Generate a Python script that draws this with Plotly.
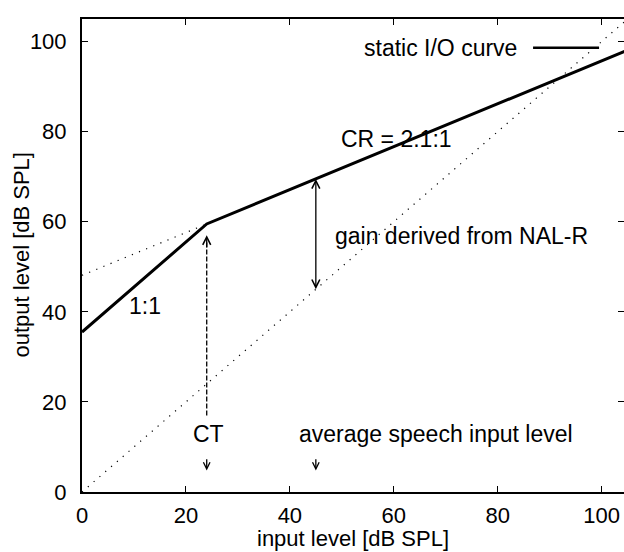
import plotly.graph_objects as go

# ---- data ----
curve_x = [0, 24, 105]          # static I/O curve (input level, dB SPL)
curve_y = [35.5, 59.5, 98.1]    # output level, dB SPL
ext_x = [0, 24]                 # dotted extension of the compressed segment
ext_y = [48.1, 59.5]
diag_x = [0, 105]               # dotted 1:1 reference line
diag_y = [0, 105]
ct_level = 24                   # compression threshold
ct_arrow_y = [17, 57]           # dashed arrow span at CT
speech_level = 45               # average speech input level
gain_span = [44.7, 69.5]        # gain arrow: from y=x to the curve
down_arrow_y = [7.6, 4.8]       # small downward arrows
x_ticks = [0, 20, 40, 60, 80, 100]
y_ticks = [0, 20, 40, 60, 80, 100]

FONT = "Liberation Sans, Arial, Helvetica, sans-serif"
FS = 21

fig = go.Figure()
fig.add_trace(go.Scatter(x=diag_x, y=diag_y, mode="lines",
                         line=dict(color="black", width=1.2, dash="1.2px,6.5px"),
                         showlegend=False, hoverinfo="skip"))
fig.add_trace(go.Scatter(x=ext_x, y=ext_y, mode="lines",
                         line=dict(color="black", width=1.2, dash="1.2px,6.5px"),
                         showlegend=False, hoverinfo="skip"))
fig.add_trace(go.Scatter(x=[ct_level, ct_level], y=[ct_arrow_y[0], ct_arrow_y[1] - 1.5], mode="lines",
                         line=dict(color="black", width=1.3, dash="5px,2px"),
                         showlegend=False, hoverinfo="skip"))
fig.add_trace(go.Scatter(x=curve_x, y=curve_y, mode="lines",
                         line=dict(color="black", width=3),
                         showlegend=False, hoverinfo="skip"))

def txt(x, y, s, xanchor="center"):
    fig.add_annotation(x=x, y=y, text=s, showarrow=False, xanchor=xanchor,
                       yanchor="middle", font=dict(family=FONT, size=23, color="black"))

txt(60.6, 78.4, "CR = 2.1:1")
txt(73.1, 56.9, "gain derived from NAL-R")
txt(12.2, 41.4, "1:1")
txt(ct_level + 0.3, 12.9, "CT")
txt(68.1, 12.9, "average speech input level")
txt(84.1, 98.6, "static I/O curve", xanchor="right")

# axis titles
fig.add_annotation(x=0.5, y=0, xref="paper", yref="paper", yshift=-46,
                   text="input level [dB SPL]", showarrow=False,
                   xanchor="center", yanchor="middle",
                   font=dict(family=FONT, size=22, color="black"))
fig.add_annotation(x=0, y=0.5, xref="paper", yref="paper", xshift=-61,
                   text="output level [dB SPL]", showarrow=False, textangle=-90,
                   xanchor="center", yanchor="middle",
                   font=dict(family=FONT, size=22, color="black"))

# legend sample line
fig.add_shape(type="line", x0=86.8, x1=99.5, y0=98.6, y1=98.6, xref="x", yref="y",
              line=dict(color="black", width=2.5))

def arrow(x, y, ax, ay, side="end", size=1.2):
    fig.add_annotation(x=x, y=y, ax=ax, ay=ay, xref="x", yref="y", axref="x", ayref="y",
                       text="", showarrow=True, arrowhead=5, startarrowhead=5,
                       arrowsize=size, startarrowsize=size, arrowwidth=1.3,
                       arrowcolor="black", arrowside=side)

arrow(ct_level, ct_arrow_y[1], ct_level, ct_arrow_y[1] - 3)
arrow(speech_level, gain_span[1], speech_level, gain_span[0], side="end+start")
arrow(ct_level, down_arrow_y[1], ct_level, down_arrow_y[0], size=1.0)
arrow(speech_level, down_arrow_y[1], speech_level, down_arrow_y[0], size=1.0)

fig.update_layout(
    width=624, height=552,
    margin=dict(l=82, r=0, t=19, b=60),
    plot_bgcolor="white", paper_bgcolor="white",
    font=dict(family=FONT, size=FS, color="black"),
    showlegend=False,
    xaxis=dict(range=[0, 104.3], tickvals=x_ticks, ticks="inside", ticklen=6,
               tickwidth=1.2, tickcolor="black", showline=True, linecolor="black",
               linewidth=2, mirror="ticks", showgrid=False, zeroline=False,
               ticklabelstandoff=3, tickfont=dict(size=22)),
    yaxis=dict(range=[0, 105], tickvals=y_ticks, ticks="inside", ticklen=6,
               tickwidth=1.2, tickcolor="black", showline=True, linecolor="black",
               linewidth=2, showgrid=False, zeroline=False,
               ticklabelstandoff=9, tickfont=dict(size=22)),
    yaxis2=dict(range=[0, 105], tickvals=y_ticks, ticks="inside", ticklen=6,
                tickwidth=1.2, tickcolor="black", showticklabels=False,
                overlaying="y", side="right", showline=False, showgrid=False,
                zeroline=False),
)
fig.add_trace(go.Scatter(x=[None], y=[None], yaxis="y2", showlegend=False, hoverinfo="skip"))

fig.write_html("out.html")
